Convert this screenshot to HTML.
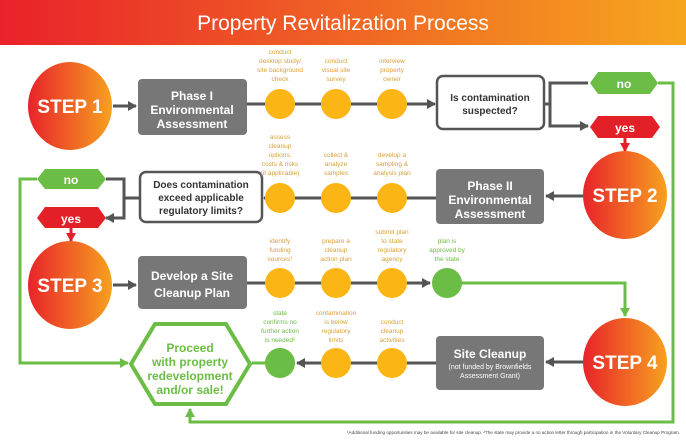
<!DOCTYPE html>
<html><head><meta charset="utf-8"><style>
html,body{margin:0;padding:0;background:#fff;}
svg{display:block;font-family:"Liberation Sans",sans-serif;}
</style></head><body>
<svg width="686" height="441" viewBox="0 0 686 441" xmlns="http://www.w3.org/2000/svg">
<defs>
<linearGradient id="hd" x1="0" x2="1" y1="0" y2="0"><stop offset="0" stop-color="#e9212b"/><stop offset="1" stop-color="#f6a61e"/></linearGradient>
<linearGradient id="st" x1="0" x2="1" y1="0" y2="0"><stop offset="0" stop-color="#e8232a"/><stop offset="1" stop-color="#f7a11f"/></linearGradient>
<marker id="ag" markerUnits="userSpaceOnUse" markerWidth="9" markerHeight="10" refX="8" refY="5" orient="auto"><path d="M0,0 L9,5 L0,10 z" fill="#555"/></marker>
<marker id="agr" markerUnits="userSpaceOnUse" markerWidth="9" markerHeight="10" refX="8" refY="5" orient="auto"><path d="M0,0 L9,5 L0,10 z" fill="#6bbd45"/></marker>
<marker id="ar" markerUnits="userSpaceOnUse" markerWidth="9" markerHeight="10" refX="8" refY="5" orient="auto"><path d="M0,0 L9,5 L0,10 z" fill="#e32028"/></marker>
</defs>
<rect x="0" y="0" width="686" height="45" fill="url(#hd)"/>
<text x="343" y="30" fill="#fff" font-size="21" text-anchor="middle">Property Revitalization Process</text>

<!-- green loops -->
<g stroke="#6bbd45" stroke-width="3" fill="none">
<polyline points="658,83 673,83 673,422 190,422 190,409" marker-end="url(#agr)"/>
<polyline points="37,179 20,179 20,363 128,363" marker-end="url(#agr)"/>
<polyline points="447,283 625,283 625,316" marker-end="url(#agr)"/>
<polyline points="252,363 266,363"/>
</g>
<!-- gray connectors -->
<g stroke="#555" stroke-width="3" fill="none">
<line x1="113" y1="106" x2="136" y2="106" marker-end="url(#ag)"/>
<line x1="247" y1="104" x2="435" y2="104" marker-end="url(#ag)"/>
<polyline points="588,83 550,83 550,126 588,126" marker-end="url(#ag)"/>
<line x1="544" y1="104" x2="550" y2="104"/>
<line x1="583" y1="196" x2="546" y2="196" marker-end="url(#ag)"/>
<line x1="436" y1="198" x2="264" y2="198" marker-end="url(#ag)"/>
<polyline points="106,179 124,179 124,218 106,218" marker-end="url(#ag)"/>
<line x1="140" y1="198" x2="124" y2="198"/>
<line x1="113" y1="285" x2="136" y2="285" marker-end="url(#ag)"/>
<line x1="247" y1="283" x2="430" y2="283" marker-end="url(#ag)"/>
<line x1="583" y1="362" x2="546" y2="362" marker-end="url(#ag)"/>
<line x1="436" y1="363" x2="297" y2="363" marker-end="url(#ag)"/>
</g>
<g stroke="#e32028" stroke-width="3" fill="none">
<line x1="625" y1="138" x2="625" y2="151" marker-end="url(#ar)"/>
<line x1="71" y1="228" x2="71" y2="241" marker-end="url(#ar)"/>
</g>

<!-- step circles -->
<g font-size="19" font-weight="bold" fill="#fff" text-anchor="middle">
<ellipse cx="70" cy="106" rx="42" ry="44" fill="url(#st)"/><text x="70" y="113">STEP 1</text>
<ellipse cx="625" cy="195" rx="42" ry="44" fill="url(#st)"/><text x="625" y="202">STEP 2</text>
<ellipse cx="70" cy="285" rx="42" ry="44" fill="url(#st)"/><text x="70" y="292">STEP 3</text>
<ellipse cx="625" cy="362" rx="42" ry="44" fill="url(#st)"/><text x="625" y="369">STEP 4</text>
</g>

<!-- gray boxes -->
<g fill="#777">
<rect x="138" y="79" width="109" height="56" rx="4"/>
<rect x="436" y="169" width="108" height="55" rx="4"/>
<rect x="138" y="256" width="109" height="53" rx="4"/>
<rect x="436" y="336" width="108" height="54" rx="4"/>
</g>
<g fill="#fff" font-weight="bold" font-size="12" text-anchor="middle">
<text x="192" y="100">Phase I</text><text x="192" y="114">Environmental</text><text x="192" y="128">Assessment</text>
<text x="490" y="190">Phase II</text><text x="490" y="204">Environmental</text><text x="490" y="218">Assessment</text>
<text x="192" y="280">Develop a Site</text><text x="192" y="297">Cleanup Plan</text>
<text x="490" y="358">Site Cleanup</text>
<text x="490" y="369" font-size="7" font-weight="normal">(not funded by Brownfields</text>
<text x="490" y="378" font-size="7" font-weight="normal">Assessment Grant)</text>
</g>

<!-- decision boxes -->
<rect x="437" y="76" width="107" height="53" rx="6" fill="#fff" stroke="#555" stroke-width="2.5"/>
<text x="490" y="101" font-size="10" font-weight="bold" fill="#333" text-anchor="middle">Is contamination</text>
<text x="490" y="114" font-size="10" font-weight="bold" fill="#333" text-anchor="middle">suspected?</text>
<rect x="140" y="172" width="122" height="50" rx="6" fill="#fff" stroke="#555" stroke-width="2.5"/>
<g font-size="10" font-weight="bold" fill="#333" text-anchor="middle">
<text x="201" y="188">Does contamination</text><text x="201" y="201">exceed applicable</text><text x="201" y="214">regulatory limits?</text>
</g>

<!-- no/yes hexes -->
<polygon points="590,83 598,72 650,72 658,83 650,94 598,94" fill="#6bbd45"/>
<text x="624" y="88" fill="#fff" font-size="12" font-weight="bold" text-anchor="middle">no</text>
<polygon points="590,127 598,116 652,116 660,127 652,138 598,138" fill="#e32028"/>
<text x="625" y="132" fill="#fff" font-size="12" font-weight="bold" text-anchor="middle">yes</text>
<polygon points="37,179 45,169 98,169 106,179 98,189 45,189" fill="#6bbd45"/>
<text x="71" y="184" fill="#fff" font-size="12" font-weight="bold" text-anchor="middle">no</text>
<polygon points="37,218 45,207 98,207 106,218 98,228 45,228" fill="#e32028"/>
<text x="71" y="223" fill="#fff" font-size="12" font-weight="bold" text-anchor="middle">yes</text>

<!-- final hexagon -->
<polygon points="131,364 155,324 226,324 250,364 226,404 155,404" fill="#fff" stroke="#6bbd45" stroke-width="4"/>
<g fill="#6bbd45" font-size="12" font-weight="bold" text-anchor="middle">
<text x="190" y="352">Proceed</text><text x="190" y="366">with property</text><text x="190" y="380">redevelopment</text><text x="190" y="394">and/or sale!</text>
</g>

<!-- dots -->
<g fill="#fbb616">
<circle cx="280" cy="104" r="15"/><circle cx="336" cy="104" r="15"/><circle cx="392" cy="104" r="15"/>
<circle cx="280" cy="198" r="15"/><circle cx="336" cy="198" r="15"/><circle cx="392" cy="198" r="15"/>
<circle cx="280" cy="283" r="15"/><circle cx="336" cy="283" r="15"/><circle cx="392" cy="283" r="15"/>
<circle cx="336" cy="363" r="15"/><circle cx="392" cy="363" r="15"/>
</g>
<circle cx="447" cy="283" r="15" fill="#6bbd45"/>
<circle cx="280" cy="363" r="15" fill="#6bbd45"/>

<!-- small labels -->
<g fill="#d9a03a" font-size="6.5" text-anchor="middle">
<text x="280" y="54">conduct</text><text x="280" y="63">desktop study/</text><text x="280" y="72">site background</text><text x="280" y="81">check</text>
<text x="336" y="63">conduct</text><text x="336" y="72">visual site</text><text x="336" y="81">survey</text>
<text x="392" y="63">interview</text><text x="392" y="72">property</text><text x="392" y="81">owner</text>
<text x="280" y="139">assess</text><text x="280" y="148">cleanup</text><text x="280" y="157">options,</text><text x="280" y="166">costs &amp; risks</text><text x="280" y="175">(if applicable)</text>
<text x="336" y="157">collect &amp;</text><text x="336" y="166">analyze</text><text x="336" y="175">samples</text>
<text x="392" y="157">develop a</text><text x="392" y="166">sampling &amp;</text><text x="392" y="175">analysis plan</text>
<text x="280" y="243">identify</text><text x="280" y="252">funding</text><text x="280" y="261">sources¹</text>
<text x="336" y="243">prepare a</text><text x="336" y="252">cleanup</text><text x="336" y="261">action plan</text>
<text x="392" y="234">submit plan</text><text x="392" y="243">to state</text><text x="392" y="252">regulatory</text><text x="392" y="261">agency</text>
<text x="336" y="315">contamination</text><text x="336" y="324">is below</text><text x="336" y="333">regulatory</text><text x="336" y="342">limits</text>
<text x="392" y="324">conduct</text><text x="392" y="333">cleanup</text><text x="392" y="342">activities</text>
</g>
<g fill="#6bbd45" font-size="6.5" text-anchor="middle">
<text x="447" y="243">plan is</text><text x="447" y="252">approved by</text><text x="447" y="261">the state</text>
<text x="280" y="315">state</text><text x="280" y="324">confirms no</text><text x="280" y="333">further action</text><text x="280" y="342">is needed²</text>
</g>
<text x="680" y="434" fill="#444" font-size="4.6" text-anchor="end">¹Additional funding opportunities may be available for site cleanup. ²The state may provide a no action letter through participation in the Voluntary Cleanup Program.</text>
</svg>
</body></html>
